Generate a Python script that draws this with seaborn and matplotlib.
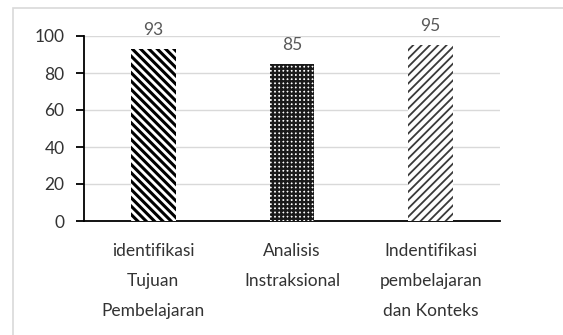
import matplotlib
matplotlib.use("Agg")
import matplotlib.pyplot as plt
import seaborn as sns
import pandas as pd
from matplotlib.patches import Rectangle

categories = ["identifikasi\nTujuan\nPembelajaran",
              "Analisis\nInstraksional",
              "Indentifikasi\npembelajaran\ndan Konteks"]
values = [93, 85, 95]
y_ticks = [0, 20, 40, 60, 80, 100]

df = pd.DataFrame({"kategori": categories, "nilai": values})

sns.set_style("white")
plt.rcParams["font.family"] = ["Lato", "DejaVu Sans"]

fig = plt.figure(figsize=(5.63, 3.35), dpi=100)
ax = fig.add_axes([84 / 563, 1 - 221 / 335, 416 / 563, 185 / 335])

sns.barplot(data=df, x="kategori", y="nilai", ax=ax, width=0.32,
            color="white", saturation=1, linewidth=0, zorder=3)

# pattern fills for each bar
styles = [("\\\\\\\\", "black", 2.2), ("++++", "#1a1a1a", 1.7),
          ("////", "#3a3a3a", 1.3)]
for patch, (h, c, lw) in zip(ax.patches, styles):
    patch.set_hatch(h)
    patch.set_edgecolor(c)
    patch.set_facecolor("white")
    patch.set_linewidth(0)
    if hasattr(patch, "set_hatch_linewidth"):
        patch.set_hatch_linewidth(lw)

ax.bar_label(ax.containers[0], labels=[str(v) for v in values], padding=8,
             fontsize=12.5, color="#595959")

ax.set_ylim(0, 100)
ax.set_xlim(-0.5, 2.5)
ax.set_yticks(y_ticks)
ax.set_yticklabels([str(t) for t in y_ticks])
ax.yaxis.grid(True, color="#d9d9d9", linewidth=1, zorder=0)
ax.set_axisbelow(True)
ax.set_xlabel("")
ax.set_ylabel("")

for s in ["top", "right"]:
    ax.spines[s].set_visible(False)
for s in ["left", "bottom"]:
    ax.spines[s].set_color("black")
    ax.spines[s].set_linewidth(1.3)

ax.tick_params(axis="y", which="major", direction="out", length=6, width=1.3,
               color="black", left=True, pad=8, labelsize=12.5, labelcolor="#333333")
ax.tick_params(axis="x", length=0, pad=16, labelsize=12.5, labelcolor="#333333")
for lbl in ax.get_xticklabels():
    lbl.set_linespacing(2.05)
    lbl.set_ha("center")

# outer chart border
fig.patches.append(Rectangle((13 / 563, -0.1), 1.2, 1 - 8 / 335 + 0.1,
                             transform=fig.transFigure, fill=False,
                             edgecolor="#d9d9d9", linewidth=1.2))

fig.savefig("out.png", dpi=100)
